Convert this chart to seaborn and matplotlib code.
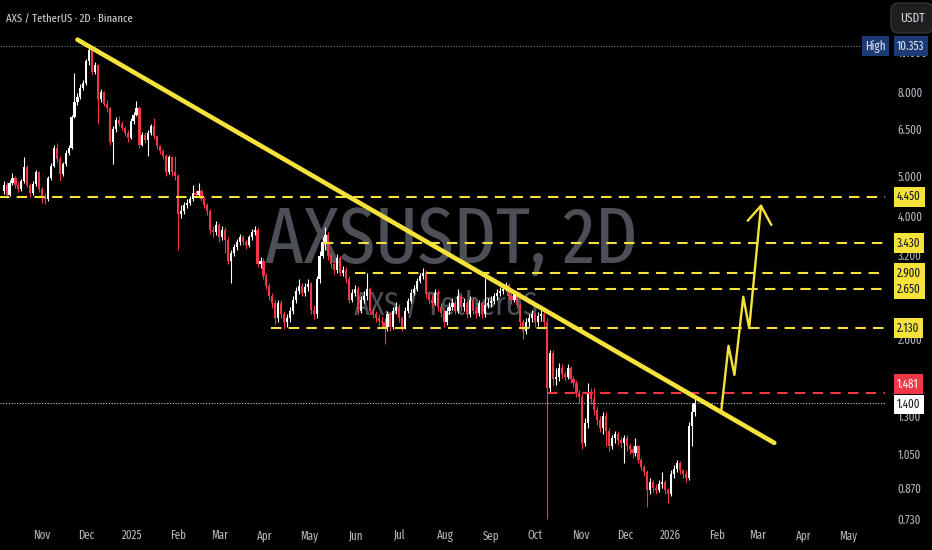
import os
import numpy as np
import pandas as pd
import matplotlib
matplotlib.use("Agg")
import matplotlib.pyplot as plt
import matplotlib.dates as mdates
import matplotlib.transforms as mtransforms
from matplotlib import font_manager
import seaborn as sns

# ---- data (2D candles) ----
first_open = 4.60
closes = [
    4.76, 4.50, 4.80, 4.95, 4.75, 4.65, 4.85, 5.25, 4.75, 4.55,
    4.78, 5.10, 4.65, 4.45, 4.40, 4.95, 5.30, 5.85, 5.50, 5.05,
    5.35, 5.70, 5.85, 6.96, 7.55, 7.80, 8.20, 8.40, 9.50, 10.10,
    8.95, 9.30, 7.70, 8.00, 7.50, 7.30, 6.05, 6.50, 6.85, 6.70,
    6.55, 6.35, 6.20, 6.80, 7.05, 7.30, 5.95, 6.30, 6.10, 6.35,
    6.60, 6.25, 5.90, 5.75, 5.60, 5.10, 5.55, 5.10, 5.00, 4.05,
    4.10, 4.25, 4.30, 4.40, 4.55, 4.50, 4.60, 4.40, 4.25, 4.10,
    3.70, 3.65, 3.80, 3.55, 3.70, 3.50, 3.10, 3.25, 3.35, 3.45,
    3.55, 3.45, 3.40, 3.55, 3.65, 3.70, 3.05, 3.10, 2.85, 2.70,
    2.55, 2.45, 2.25, 2.45, 2.30, 2.20, 2.25, 2.35, 2.50, 2.62,
    2.70, 2.60, 2.68, 2.73, 2.36, 2.30, 2.80, 3.20, 3.45, 3.60,
    3.20, 3.05, 2.95, 3.15, 2.90, 2.95, 2.80, 2.50, 2.60, 2.65,
    2.35, 2.50, 2.55, 2.65, 2.35, 2.30, 2.25, 2.22, 2.20, 2.15,
    2.30, 2.15, 2.35, 2.40, 2.25, 2.15, 2.35, 2.48, 2.60, 2.65,
    2.78, 2.85, 2.90, 2.58, 2.50, 2.45, 2.60, 2.40, 2.32, 2.20,
    2.35, 2.40, 2.45, 2.35, 2.55, 2.40, 2.45, 2.30, 2.50, 2.35,
    2.32, 2.45, 2.30, 2.42, 2.45, 2.48, 2.55, 2.60, 2.62, 2.66,
    2.72, 2.55, 2.50, 2.58, 2.42, 2.20, 2.10, 2.20, 2.25, 2.30,
    2.20, 2.28, 2.30, 2.20, 1.52, 1.85, 1.60, 1.62, 1.70, 1.65,
    1.62, 1.70, 1.60, 1.57, 1.48, 1.45, 1.12, 1.25, 1.48, 1.43,
    1.35, 1.27, 1.22, 1.30, 1.20, 1.10, 1.15, 1.18, 1.14, 1.12,
    1.15, 1.10, 1.08, 1.06, 1.10, 1.02, 0.98, 0.95, 0.86, 0.90,
    0.87, 0.86, 0.89, 0.90, 0.86, 0.84, 0.94, 0.97, 1.00, 0.96,
    0.94, 0.92, 1.23, 1.33, 1.40,
]
highs = [
    4.85, 4.82, 4.88, 5.08, 5.00, 4.82, 4.92, 5.57, 5.32, 4.80,
    4.85, 5.18, 5.15, 4.70, 4.55, 5.00, 5.38, 5.95, 6.00, 5.60,
    5.42, 5.78, 5.95, 7.05, 8.90, 7.95, 8.35, 8.55, 9.65, 10.353,
    10.20, 9.45, 9.35, 8.15, 8.05, 7.65, 7.35, 6.60, 6.95, 7.00,
    6.80, 6.60, 6.45, 6.90, 7.15, 7.60, 7.40, 6.40, 6.40, 6.45,
    6.70, 6.90, 6.30, 5.95, 5.80, 5.65, 5.62, 5.60, 5.60, 5.05,
    4.25, 4.32, 4.40, 4.48, 4.75, 4.62, 4.80, 4.65, 4.45, 4.30,
    4.15, 3.78, 3.88, 3.85, 3.78, 3.75, 3.55, 3.30, 3.42, 3.52,
    3.62, 3.60, 3.50, 3.60, 3.72, 3.78, 3.75, 3.18, 3.15, 2.90,
    2.75, 2.60, 2.50, 2.50, 2.50, 2.35, 2.30, 2.40, 2.55, 2.68,
    2.80, 2.74, 2.74, 2.80, 2.76, 2.42, 2.85, 3.28, 3.55, 3.75,
    3.65, 3.25, 3.10, 3.22, 3.20, 3.02, 3.00, 2.85, 2.66, 2.72,
    2.70, 2.55, 2.62, 2.90, 2.68, 2.40, 2.35, 2.30, 2.28, 2.25,
    2.35, 2.33, 2.40, 2.46, 2.44, 2.28, 2.40, 2.52, 2.65, 2.72,
    2.82, 2.90, 2.98, 2.95, 2.62, 2.56, 2.66, 2.64, 2.45, 2.36,
    2.40, 2.46, 2.52, 2.50, 2.65, 2.60, 2.52, 2.48, 2.55, 2.53,
    2.40, 2.50, 2.48, 2.82, 2.52, 2.55, 2.60, 2.66, 2.68, 2.72,
    2.76, 2.75, 2.60, 2.63, 2.62, 2.45, 2.24, 2.25, 2.30, 2.36,
    2.33, 2.33, 2.36, 2.33, 2.25, 1.88, 1.88, 1.70, 1.75, 1.74,
    1.68, 1.74, 1.72, 1.63, 1.59, 1.51, 1.47, 1.29, 1.57, 1.52,
    1.52, 1.37, 1.30, 1.33, 1.33, 1.22, 1.17, 1.20, 1.20, 1.16,
    1.17, 1.17, 1.12, 1.10, 1.15, 1.11, 1.03, 0.99, 0.96, 0.92,
    0.91, 0.89, 0.91, 0.95, 0.91, 0.87, 0.96, 0.99, 1.02, 1.01,
    0.97, 0.96, 1.26, 1.40, 1.44,
]
lows = [
    4.52, 4.42, 4.46, 4.74, 4.68, 4.58, 4.60, 4.80, 4.70, 4.45,
    4.50, 4.72, 4.58, 4.30, 4.28, 4.35, 4.90, 5.25, 5.40, 4.85,
    5.00, 5.30, 5.62, 5.80, 6.90, 7.45, 7.70, 8.10, 8.30, 9.30,
    8.80, 8.85, 6.70, 7.55, 7.40, 7.15, 5.95, 5.35, 6.40, 6.60,
    6.45, 6.25, 6.05, 6.15, 6.70, 7.00, 5.85, 5.90, 6.00, 5.60,
    6.30, 6.15, 5.80, 5.65, 5.50, 5.00, 5.05, 5.00, 4.90, 3.30,
    3.95, 4.05, 4.18, 4.25, 4.35, 4.42, 4.45, 4.35, 4.18, 4.02,
    3.62, 3.55, 3.60, 3.45, 3.50, 3.25, 3.05, 2.75, 3.20, 3.30,
    3.40, 3.40, 3.32, 3.35, 3.50, 3.60, 3.00, 2.98, 2.80, 2.65,
    2.50, 2.38, 2.18, 2.20, 2.25, 2.12, 2.14, 2.20, 2.30, 2.45,
    2.58, 2.55, 2.55, 2.62, 2.30, 2.24, 2.26, 2.75, 3.15, 3.30,
    3.12, 2.98, 2.88, 2.90, 2.85, 2.85, 2.75, 2.45, 2.46, 2.55,
    2.30, 2.32, 2.45, 2.50, 2.30, 2.25, 2.20, 2.16, 2.14, 1.95,
    2.10, 2.10, 2.12, 2.30, 2.20, 2.10, 2.12, 2.32, 2.45, 2.56,
    2.62, 2.74, 2.80, 2.52, 2.44, 2.40, 2.42, 2.35, 2.27, 2.15,
    2.17, 2.30, 2.36, 2.30, 2.32, 2.35, 2.35, 2.25, 2.27, 2.30,
    2.26, 2.28, 2.25, 2.27, 2.38, 2.40, 2.44, 2.50, 2.55, 2.58,
    2.62, 2.50, 2.44, 2.46, 2.38, 2.15, 2.00, 2.06, 2.15, 2.20,
    2.14, 2.16, 2.22, 2.14, 0.73, 1.48, 1.55, 1.55, 1.58, 1.61,
    1.58, 1.60, 1.57, 1.53, 1.45, 1.40, 1.08, 1.10, 1.22, 1.39,
    1.31, 1.24, 1.19, 1.18, 1.10, 1.07, 1.08, 1.12, 1.11, 1.09,
    1.00, 1.07, 1.05, 1.03, 1.04, 1.00, 0.96, 0.93, 0.78, 0.84,
    0.85, 0.84, 0.85, 0.87, 0.84, 0.80, 0.83, 0.92, 0.95, 0.94,
    0.92, 0.90, 0.91, 1.10, 1.30,
]
dates = pd.date_range(end="2026-01-17", periods=len(closes), freq="2D")

# horizontal levels and where they start
yellow_levels = [4.45, 3.43, 2.90, 2.65, 2.13]
yellow_labels = ["4.450", "3.430", "2.900", "2.650", "2.130"]
yellow_starts = ["2024-10-03", "2025-05-10", "2025-06-01", "2025-09-19", "2025-04-05"]
red_level, red_label, red_start = 1.481, "1.481", "2025-10-09"
last_price, last_label = 1.400, "1.400"
high_price, high_label = 10.353, "10.353"

# drawn trendline and projected path
trend_dates = ["2024-11-25", "2026-03-12"]
trend_prices = [10.73, 1.12]
path_dates = ["2026-02-04", "2026-02-09", "2026-02-13", "2026-02-19", "2026-02-23", "2026-03-03"]
path_prices = [1.333, 1.93, 1.64, 2.54, 2.13, 4.23]
head_dates = ["2026-02-22", "2026-03-03", "2026-03-10"]
head_prices = [3.89, 4.23, 3.80]

tick_prices = [0.73, 0.87, 1.05, 1.3, 1.6, 2.0, 3.2, 4.0, 5.0, 6.5, 8.0, 10.0]
month_ticks = pd.date_range("2024-11-01", "2026-05-01", freq="MS")
month_labels = ["Nov", "Dec", "2025", "Feb", "Mar", "Apr", "May", "Jun", "Jul", "Aug",
                "Sep", "Oct", "Nov", "Dec", "2026", "Feb", "Mar", "Apr", "May"]

UP, DOWN = "#ffffff", "#f23645"
YELLOW = "#f5e23a"
GREY = "#b2b5be"

sns.set_style("dark", {"axes.facecolor": "black", "figure.facecolor": "black"})
plt.rcParams["font.family"] = ["Liberation Sans", "DejaVu Sans"]

# TradingView uses a narrow sans face; look for condensed regular faces
found = {}
skip = ("Bold", "Italic", "Oblique", "Light", "Thin", "Medium", "Black", "SemiBold", "ExtraBold")
for f in font_manager.fontManager.ttflist:
    base = os.path.basename(f.fname)
    if "Sans" not in base or "Serif" in base or "Mono" in base or "CJK" in base:
        continue
    if any(s in base for s in skip):
        continue
    if "ExtraCondensed" in base:
        found.setdefault("extra", f.fname)
    elif "SemiCondensed" in base:
        found.setdefault("semi", f.fname)
    elif "Condensed" in base or "Narrow" in base:
        if "Liberation" in base or "cond" not in found:
            found["cond"] = f.fname
narrow = found.get("extra") or found.get("cond") or found.get("semi")
small = 8.6 if narrow is not None else 7.6


def fp(size):
    if narrow is None:
        return dict(fontsize=size)
    return dict(fontproperties=font_manager.FontProperties(fname=narrow, size=size))


df = pd.DataFrame({"date": dates, "open": [first_open] + closes[:-1],
                   "close": closes, "high": highs, "low": lows})
df["x"] = mdates.date2num(df["date"])
df["color"] = np.where(df["close"] >= df["open"], UP, DOWN)
df["bottom"] = df[["open", "close"]].min(axis=1)
df["height"] = (df["close"] - df["open"]).abs()

fig = plt.figure(figsize=(9.32, 5.5), dpi=100)
ax = fig.add_axes([0, 25 / 550, 885 / 932, 525 / 550])
ax.set_yscale("log")
ax.grid(False)
for s in ax.spines.values():
    s.set_visible(False)
renderer = fig.canvas.get_renderer()


def fit(t, target, cap):
    # scale a text so its width matches the chart
    w = t.get_window_extent(renderer).width
    t.set_fontsize(min(t.get_fontsize() * target / w, cap))


x_left = mdates.date2num(pd.Timestamp("2024-10-03 13:00"))
x_right = mdates.date2num(pd.Timestamp("2026-05-26"))

# watermark and title
wm = ax.text(0.510, 0.499, "AXSUSDT, 2D", transform=ax.transAxes, ha="center",
             va="baseline", color="#4d4f56", zorder=0, **fp(50))
wm2 = ax.text(0.504, 0.398, "AXS / TetherUS", transform=ax.transAxes, ha="center",
              va="baseline", color="#4d4f56", zorder=0, **fp(22))
title = ax.text(0.007, 0.958, "AXS / TetherUS · 2D · Binance", transform=ax.transAxes,
                ha="left", va="baseline", color="#d1d4dc", zorder=6, **fp(9))
fit(wm, 373, 62)
fit(wm2, 184, 24)
fit(title, 126, 10)

# candles
ax.vlines(df["x"], df["low"], df["high"], colors=df["color"], lw=0.8, zorder=3)
ax.bar(df["x"], df["height"], bottom=df["bottom"], width=1.45, color=df["color"],
       linewidth=0, zorder=4)

# levels
for lvl, start in zip(yellow_levels, yellow_starts):
    ax.plot([mdates.date2num(pd.Timestamp(start)), x_right], [lvl, lvl], color=YELLOW,
            lw=1.5, dashes=(5, 3.5), zorder=5)
ax.plot([mdates.date2num(pd.Timestamp(red_start)), x_right], [red_level, red_level],
        color=DOWN, lw=1.5, dashes=(5, 3.5), zorder=5)
ax.plot([x_left, x_right], [last_price, last_price], color="#c8cad0", lw=0.8,
        dashes=(1, 1.5), zorder=5)
ax.plot([x_left, x_right], [high_price, high_price], color="#787b86", lw=0.8,
        dashes=(1, 1.5), zorder=2)

# trendline and projected path
sns.lineplot(x=mdates.date2num(pd.to_datetime(trend_dates)), y=trend_prices, ax=ax,
             color=YELLOW, lw=3.3, zorder=6, solid_capstyle="round")
sns.lineplot(x=mdates.date2num(pd.to_datetime(path_dates)), y=path_prices, ax=ax,
             sort=False, estimator=None, color=YELLOW, lw=1.7, zorder=6)
sns.lineplot(x=mdates.date2num(pd.to_datetime(head_dates)), y=head_prices, ax=ax,
             sort=False, estimator=None, color=YELLOW, lw=1.7, zorder=6)

ax.set_xlim(x_left, x_right)
ax.set_ylim(0.707, 13.4)

# axes ticks
ax.yaxis.tick_right()
ax.set_yticks(tick_prices)
ax.set_yticklabels([f"{p:.3f}" for p in tick_prices])
ax.yaxis.set_minor_locator(matplotlib.ticker.NullLocator())
ax.tick_params(axis="y", length=0, pad=9, labelcolor=GREY)
ax.set_xticks(mdates.date2num(month_ticks))
ax.set_xticklabels(month_labels)
ax.tick_params(axis="x", length=0, pad=3, labelcolor=GREY)
for lab in ax.get_xticklabels() + ax.get_yticklabels():
    if narrow is not None:
        lab.set_fontproperties(font_manager.FontProperties(fname=narrow, size=small))
    else:
        lab.set_fontsize(small)
ax.set_xlabel("")
ax.set_ylabel("")

# price-scale labels
trans = mtransforms.blended_transform_factory(fig.transFigure, ax.transData)


def price_box(price, text, fc, tc, x_px=893, dy=0, ha="left"):
    ax.annotate(text, xy=(x_px / 932, price), xycoords=trans,
                xytext=(3 if ha == "left" else -3, dy), textcoords="offset points",
                ha=ha, va="center", color=tc, zorder=10,
                annotation_clip=False,
                bbox=dict(boxstyle="square,pad=0.3", fc=fc, ec="none"), **fp(small))


for lvl, lab in zip(yellow_levels, yellow_labels):
    price_box(lvl, lab, YELLOW, "#131722")
price_box(red_level, red_label, DOWN, "white", dy=6.5)
price_box(last_price, last_label, "white", "#131722", dy=-1)
price_box(high_price, high_label, "#1c3b74", "#e0e3eb")
price_box(high_price, "High", "#1c3b74", "#e0e3eb", x_px=890, ha="right")

fig.text(912 / 932, 1 - 18 / 550, "USDT", ha="center", va="center",
         color="#d1d4dc",
         bbox=dict(boxstyle="round,pad=0.7,rounding_size=0.6", fc="#1e1e1e",
                   ec="#3a3a3a", lw=0.8), **fp(small + 0.4))

fig.savefig("out.png", dpi=100, facecolor="black")
